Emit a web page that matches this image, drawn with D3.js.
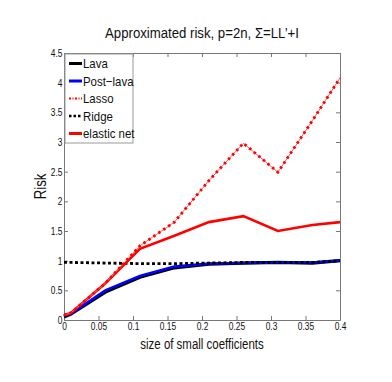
<!DOCTYPE html>
<html>
<head>
<meta charset="utf-8">
<script src="https://cdn.jsdelivr.net/npm/d3@7"></script>
<style>
  body { margin: 0; background: #fff; }
  text { font-family: "Liberation Sans", Arial, sans-serif; fill: #111; }
</style>
</head>
<body>
<div id="chart"></div>
<script>
// data
const sizes    = [0, 0.01, 0.06, 0.11, 0.16, 0.21, 0.26, 0.31, 0.36, 0.40];
const lava     = [0.05, 0.10, 0.47, 0.72, 0.88, 0.94, 0.96, 0.97, 0.96, 1.00];
const postLava = [0.07, 0.11, 0.50, 0.74, 0.90, 0.95, 0.96, 0.97, 0.97, 1.00];
const lasso    = [0.08, 0.12, 0.62, 1.25, 1.65, 2.35, 2.98, 2.49, 3.36, 4.08];
const ridge    = [0.97, 0.97, 0.96, 0.95, 0.95, 0.96, 0.97, 0.97, 0.97, 1.00];
const elastic  = [0.08, 0.12, 0.62, 1.20, 1.42, 1.65, 1.75, 1.50, 1.60, 1.65];
const xTicks = [0, 0.05, 0.1, 0.15, 0.2, 0.25, 0.3, 0.35, 0.4];
const yTicks = [0, 0.5, 1, 1.5, 2, 2.5, 3, 3.5, 4, 4.5];

const W = 392, H = 382;
const m = {t: 53, r: 52, b: 62, l: 64};
const w = W - m.l - m.r, h = H - m.t - m.b;

const svg = d3.select("#chart").append("svg")
    .attr("width", W).attr("height", H);
const g = svg.append("g").attr("transform", "translate(" + m.l + "," + m.t + ")");

const x = d3.scaleLinear().domain([0, 0.4]).range([0, w]);
const y = d3.scaleLinear().domain([0, 4.5]).range([h, 0]);

// axes with inward ticks, MATLAB style box; labels squeezed like a narrow font
function styleAxis(sel){
    sel.select(".domain").attr("stroke", "#777");
    sel.selectAll(".tick line").attr("stroke", "#777");
    sel.selectAll("text").attr("font-size", 10.5).attr("fill", "#111")
        .attr("transform", "scale(0.8,1)");
}
const fmt = d => String(d);
g.append("g").attr("transform", "translate(0," + h + ")")
    .call(d3.axisBottom(x).tickValues(xTicks).tickFormat(fmt).tickSizeInner(-4).tickSizeOuter(0).tickPadding(3))
    .call(styleAxis);
g.append("g")
    .call(d3.axisTop(x).tickValues(xTicks).tickFormat("").tickSizeInner(-4).tickSizeOuter(0))
    .call(styleAxis);
g.append("g")
    .call(d3.axisLeft(y).tickValues(yTicks).tickFormat(fmt).tickSizeInner(-4).tickSizeOuter(0).tickPadding(2))
    .call(styleAxis);
g.append("g").attr("transform", "translate(" + w + ",0)")
    .call(d3.axisRight(y).tickValues(yTicks).tickFormat("").tickSizeInner(-4).tickSizeOuter(0))
    .call(styleAxis);

const line = d3.line().x(d => x(d[0])).y(d => y(d[1]));
const pts = vals => sizes.map((s, i) => [s, vals[i]]);

g.append("path").datum(pts(lava)).attr("d", line)
    .attr("fill", "none").attr("stroke", "#000").attr("stroke-width", 3.2);
g.append("path").datum(pts(postLava)).attr("d", line)
    .attr("fill", "none").attr("stroke", "#0000ff").attr("stroke-width", 2.6);
g.append("path").datum(pts(ridge)).attr("d", line)
    .attr("fill", "none").attr("stroke", "#000").attr("stroke-width", 2.8)
    .attr("stroke-dasharray", "3,2.5");
g.append("path").datum(pts(elastic)).attr("d", line)
    .attr("fill", "none").attr("stroke", "#ff0000").attr("stroke-width", 2.6);
// lasso: dash-dot look = thin line plus thick dots
g.append("path").datum(pts(lasso)).attr("d", line)
    .attr("fill", "none").attr("stroke", "#ff6060").attr("stroke-width", 1);
g.append("path").datum(pts(lasso)).attr("d", line)
    .attr("fill", "none").attr("stroke", "#ff0000").attr("stroke-width", 2.8)
    .attr("stroke-dasharray", "2.5,3.5");

// legend
const legItems = [
    {name: "Lava", color: "#000", width: 3, dash: null},
    {name: "Post\u2212lava", color: "#0000ff", width: 3, dash: null},
    {name: "Lasso", color: "#ff0000", width: 2, dash: "2,1.5,1,1.5"},
    {name: "Ridge", color: "#000", width: 2.5, dash: "2.5,2"},
    {name: "elastic net", color: "#ff0000", width: 3, dash: null}
];
const leg = g.append("g").attr("transform", "translate(1,1)");
leg.append("rect").attr("width", 68).attr("height", 89)
    .attr("fill", "#fff").attr("stroke", "#999").attr("stroke-width", 1);
const li = leg.selectAll(".li").data(legItems).enter().append("g")
    .attr("transform", (d, i) => "translate(0," + (9.5 + i * 17.5) + ")");
li.append("line").attr("x1", 4).attr("x2", 17).attr("y1", 0).attr("y2", 0)
    .attr("stroke", d => d.color).attr("stroke-width", d => d.width)
    .attr("stroke-dasharray", d => d.dash);
li.append("text").attr("transform", "translate(18,4.5) scale(0.88,1)")
    .attr("font-size", 13).text(d => d.name);

// titles
svg.append("text").attr("transform", "translate(" + (m.l + w / 2) + ",38) scale(0.88,1)")
    .attr("text-anchor", "middle")
    .attr("font-size", 15).text("Approximated risk, p=2n, \u03A3=LL\u2019+I");
svg.append("text").attr("transform", "translate(" + (m.l + w / 2) + ",349) scale(0.74,1)")
    .attr("text-anchor", "middle")
    .attr("font-size", 15.5).text("size of small coefficients");
svg.append("text").attr("transform", "translate(46," + (m.t + h / 2) + ") rotate(-90) scale(0.8,1)")
    .attr("text-anchor", "middle").attr("font-size", 16.5).text("Risk");
</script>
</body>
</html>
